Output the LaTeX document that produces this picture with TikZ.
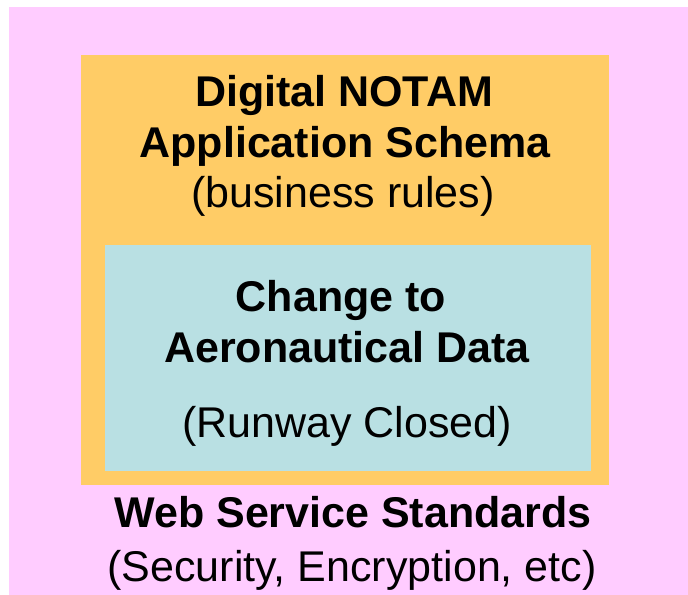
\documentclass[tikz,border=0pt]{standalone}
\usepackage{fontspec}
\setmainfont{Liberation Sans}
\usetikzlibrary{positioning}
\definecolor{webpink}{HTML}{FFCCFF}
\definecolor{schemaorange}{HTML}{FFCC66}
\definecolor{datateal}{HTML}{B9E0E3}
\tikzset{
  layer/.style={inner sep=0pt, outer sep=0pt, anchor=north west},
  heading/.style={font=\fontsize{43bp}{50bp}\selectfont\bfseries, anchor=base, inner sep=0pt},
  remark/.style={font=\fontsize{43bp}{50bp}\selectfont, anchor=base, inner sep=0pt}
}

\begin{document}
\begin{tikzpicture}[x=1bp,y=-1bp]
      \useasboundingbox (0,0) rectangle (688,595);

      \node [layer, fill=webpink,
        minimum width=679bp, minimum height=588bp
      ] (web) at (9,7) {};

      \node [layer, fill=schemaorange,
        minimum width=528bp, minimum height=430bp
      ] (schema) at (81,55) {};

      \node [layer, fill=datateal,
        minimum width=486bp, minimum height=226bp
      ] (change) at (105,245) {};

      % schema texts
      \node [heading] (schema1) at (344,107) {Digital NOTAM};
      \node [heading] (schema2) at (345,158) {Application Schema};
      \node [remark] (schema3) at (343,207) {(business rules)};

      % change texts
      \node [heading] (change1) at (341,311) {Change to};
      \node [heading] (change2) at (347,362) {Aeronautical Data};
      \node [remark] (change3) at (347,437) {(Runway Closed)};

      % web service texts
      \node [heading] (web1) at (353,527) {Web Service Standards};
      \node [remark] (web2) at (352,581) {(Security, Encryption, etc)};
    \end{tikzpicture}
\end{document}
